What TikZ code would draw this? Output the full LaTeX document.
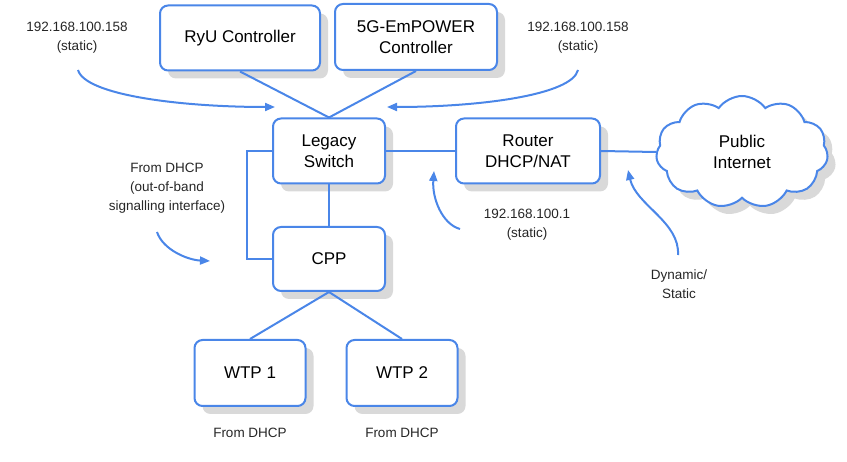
\documentclass[tikz,border=0pt]{standalone}
\usepackage{fontspec}
\setmainfont{Liberation Sans}
\usetikzlibrary{arrows.meta,shapes.symbols,shadows}
\definecolor{netblue}{HTML}{4A86E8}
\definecolor{shade}{HTML}{D9D9D9}
\tikzset{
    box/.style={draw=netblue, line width=2pt, fill=white, rounded corners=8pt,
        align=center, font=\fontsize{17}{21.5}\selectfont,
        general shadow={fill=shade, shadow xshift=8pt, shadow yshift=-8pt}},
    link/.style={netblue, line width=2pt},
    note/.style={align=center, text=black!85, font=\fontsize{13.5}{19}\selectfont},
    hint/.style={netblue, line width=2pt, -{Triangle[length=10pt,width=8pt]}}
}
\begin{document}
\begin{tikzpicture}[x=1pt,y=-1pt]
        \useasboundingbox (0,0) rectangle (847,462);
        %% boxes
        \node[box, minimum width=160pt, minimum height=65pt] (C1) at (240,38) {RyU Controller};
        \node[box, minimum width=162pt, minimum height=66pt] (C2) at (416,37) {5G-EmPOWER\\Controller};
        \node[box, minimum width=112pt, minimum height=65pt] (S) at (329,151) {Legacy\\Switch};
        \node[box, minimum width=144pt, minimum height=65pt] (R) at (528,151) {Router\\DHCP/NAT};
        \node[box, minimum width=112pt, minimum height=64pt] (P) at (329,259) {CPP};
        \node[box, minimum width=111pt, minimum height=66pt] (W1) at (250,373) {WTP 1};
        \node[box, minimum width=111pt, minimum height=66pt] (W2) at (402,373) {WTP 2};
        \node[box, cloud, cloud puffs=11, cloud puff arc=110, aspect=1.5, rounded corners=0pt,
            minimum width=172pt, minimum height=112pt] (I) at (742,152) {Public\\Internet};
        %% links
        \draw[link] (C1.south) -- (S.north);
        \draw[link] (C2.south) -- (S.north);
        \draw[link] (S.east) -- (R.west);
        \draw[link] (R.east) -- (I.west);
        \draw[link] (S.south) -- (P.north);
        \draw[link] (S.west) -- ++(-25,0) |- (P.west);
        \foreach \w in {W1,W2}
            \draw[link] (P.south) -- (\w.north);
        %% notes
        \node[note] (N1) at (77,38) {192.168.100.158\\(static)};
        \node[note] (N2) at (578,38) {192.168.100.158\\(static)};
        \node[note] (N3) at (167,188) {From DHCP\\(out-of-band\\signalling interface)};
        \node[note] (N4) at (527,225) {192.168.100.1\\(static)};
        \node[note] (N5) at (679,284) {Dynamic/\\Static};
        \node[note] (F1) at (250,433) {From DHCP};
        \node[note] (F2) at (402,433) {From DHCP};
        %% arrows
        \coordinate (a1) at (78,70);   \coordinate (b1) at (275,107);
        \coordinate (a2) at (578,70);  \coordinate (b2) at (387,107);
        \coordinate (a3) at (157,232); \coordinate (b3) at (210,261);
        \coordinate (a4) at (460,229); \coordinate (b4) at (434,171);
        \coordinate (a5) at (678,255); \coordinate (b5) at (628,170);
        \draw[hint] (a1) .. controls (85,95) and (180,107) .. (b1);
        \draw[hint] (a2) .. controls (572,95) and (480,107) .. (b2);
        \draw[hint] (a3) .. controls (163,250) and (188,260) .. (b3);
        \draw[hint] (a4) .. controls (442,224) and (432,198) .. (b4);
        \draw[hint] (a5) .. controls (680,222) and (636,205) .. (b5);
\end{tikzpicture}
\end{document}
